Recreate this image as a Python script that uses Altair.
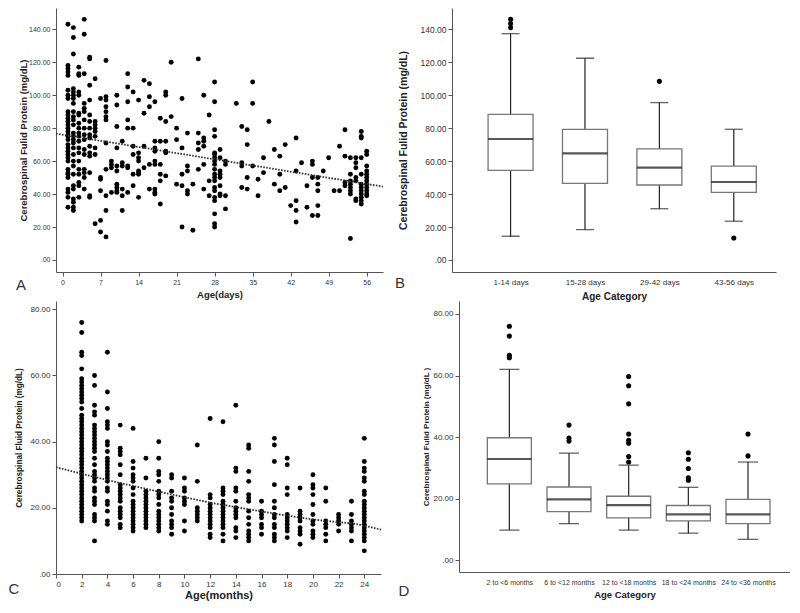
import altair as alt
import pandas as pd

FONT = "Liberation Sans"

# ---------------- Panel A : protein vs age in days ----------------
a_days = [1, 2, 3, 4, 5, 6, 7, 8, 9, 10, 11, 12, 13, 14, 15, 16, 17, 18, 19, 20,
          21, 22, 23, 24, 25, 26, 27, 28, 29, 30, 32, 33, 34, 35, 36, 37, 38, 39,
          40, 41, 42, 43, 44, 45, 46, 47, 48, 49, 50, 51, 52, 53, 54, 55, 56]
a_values = [
    [143, 118, 116, 114, 112, 103, 100, 98, 90, 88, 86, 84, 82, 80, 78, 76, 75, 73, 70, 68,
     66, 64, 62, 60, 55, 53, 52, 50, 43, 41, 38, 32],
    [141, 135, 125, 104, 102, 100, 98, 95, 90, 87, 85, 82, 77, 75, 73, 71, 68, 64, 60, 57,
     52, 45, 43, 37, 35, 32, 30],
    [117, 113, 112, 102, 100, 89, 88, 83, 80, 77, 75, 72, 68, 65, 60, 55, 52, 47, 45, 38],
    [146, 137, 113, 95, 92, 90, 85, 80, 76, 73, 67, 64, 55, 53, 50, 43],
    [123, 122, 106, 97, 88, 84, 80, 76, 74, 69, 65, 63, 53, 39, 38],
    [110, 84, 82, 80, 78, 75, 68, 64, 22],
    [98, 50, 49, 42, 24, 17],
    [121, 99, 97, 93, 90, 87, 85, 71, 55, 39, 30, 14],
    [60, 58, 56, 41],
    [100, 94, 81, 68, 57, 54, 46, 44, 42, 41],
    [72, 59, 57, 43, 39, 30],
    [113, 105, 96, 85, 80, 57, 56, 41],
    [102, 80, 69, 64, 52, 45],
    [97, 65, 62, 60, 54, 53, 52, 38],
    [109, 89, 69, 56],
    [107, 99, 93, 58, 43],
    [96, 72, 68, 66, 60, 58, 43, 41, 40],
    [86, 72, 58, 52, 48, 34],
    [102, 100, 84, 72, 66, 65, 51],
    [120, 87],
    [80, 73, 46],
    [98, 68, 52, 45, 20],
    [77, 57, 54, 42, 40],
    [46, 18],
    [122, 77, 71, 67, 55],
    [100, 74, 72, 69, 58, 43],
    [88, 48, 39],
    [108, 96, 79, 75, 65, 64, 62, 60, 58, 55, 52, 50, 48, 44, 42, 38, 36, 28, 22, 20],
    [67, 62, 54, 52, 50, 45, 40, 39],
    [60, 58, 39, 31],
    [95],
    [81, 59, 57, 44],
    [79, 70, 50, 43],
    [108, 95, 57],
    [49, 39],
    [62, 53],
    [84],
    [67, 46],
    [63, 52, 42],
    [70, 44],
    [33],
    [74, 54, 36, 30, 23],
    [59],
    [45, 32],
    [60, 58, 50, 27],
    [50, 46, 42, 33, 27],
    [54],
    [62],
    [42],
    [69, 42],
    [79, 63, 47, 45],
    [62, 52, 48, 46, 44, 42, 40, 13],
    [62, 59, 56, 50, 48, 37, 36],
    [78, 75, 74, 62, 52, 46, 44, 42, 40, 38, 36, 34],
    [66, 64, 57, 54, 52, 50, 48, 46, 44, 42, 40, 39],
]
a_trend_x = [-1.2, 59.0]
a_trend_y = [76.7, 44.5]

# ---------------- Panel B : box plot, day categories ----------------
b_cats = ["1-14 days", "15-28 days", "29-42 days", "43-56 days"]
b_q1 = [54.4, 46.5, 45.5, 41.0]
b_med = [73.4, 64.7, 56.0, 47.3]
b_q3 = [88.4, 79.3, 67.4, 57.0]
b_lo = [14.4, 18.4, 31.1, 23.5]
b_hi = [137.3, 122.4, 95.5, 79.3]
b_out_idx = [0, 0, 0, 2, 3]
b_out_val = [141, 143.5, 146, 108.4, 13.3]

# ---------------- Panel C : protein vs age in months ----------------
c_months = [2, 3, 4, 5, 6, 7, 8, 9, 10, 11, 12, 13, 14, 15, 16, 17, 18, 19, 20, 21, 22, 23, 24]
c_values = [
    [76, 73, 67, 66, 62, 59, 58, 57, 56, 55, 54, 53, 52, 50, 48, 47, 46, 45, 44, 43, 42, 41,
     40, 39, 38, 37, 36, 35, 34, 33, 32, 31, 30, 29, 28, 27, 26, 25, 24, 23, 22, 21, 20, 19,
     18, 17, 16],
    [60, 57, 51, 49, 48, 45, 44, 43, 42, 41, 40, 39, 38, 37, 35, 33, 31, 30, 29, 28, 26, 25,
     23, 22, 21, 18, 17, 16, 10],
    [67, 55, 50, 46, 45, 44, 40, 39, 37, 35, 34, 33, 32, 31, 30, 29, 28, 26, 25, 22, 21, 19,
     16, 15],
    [45, 38, 37, 36, 33, 30, 27, 26, 25, 24, 23, 22, 20, 19, 18, 17, 15, 14],
    [44, 34, 32, 30, 29, 28, 26, 24, 22, 21, 20, 19, 18, 17, 16, 15, 14, 13],
    [35, 29, 25, 24, 23, 22, 21, 20, 19, 18, 17, 16, 15, 14],
    [40, 35, 31, 30, 28, 25, 24, 23, 21, 19, 18, 17, 16, 15, 14, 13],
    [30, 29, 25, 23, 22, 20, 18, 16, 15, 14, 12],
    [29, 26, 25, 23, 22, 21, 16, 13],
    [39, 28, 20, 19, 18, 17, 16],
    [47, 24, 23, 21, 20, 19, 18, 17, 16, 15, 14, 12, 11],
    [46, 26, 25, 24, 22, 21, 20, 19, 18, 17, 16, 15, 14, 12, 10],
    [51, 32, 31, 26, 25, 22, 20, 19, 18, 17, 14, 13, 11],
    [39, 38, 31, 28, 24, 23, 22, 19, 17, 15, 13, 12, 11, 10],
    [22, 19, 18, 17, 15, 14, 12],
    [41, 39, 34, 27, 22, 20, 18, 17, 15, 14, 12, 11, 10],
    [35, 33, 26, 24, 18, 17, 16, 15, 14, 13, 11],
    [26, 19, 18, 17, 16, 14, 13, 12, 9],
    [30, 27, 26, 24, 21, 18, 16, 15, 13, 12, 11],
    [26, 22, 16, 15, 14, 12, 10],
    [18, 17, 16, 15, 13],
    [22, 18, 16, 15, 14, 13, 10],
    [41, 34, 32, 31, 29, 28, 25, 24, 22, 21, 20, 19, 18, 17, 16, 15, 14, 13, 12, 11, 10, 7],
]
c_trend_x = [0, 2, 4, 8, 12, 16, 20, 24, 25.3]
c_trend_y = [32.3, 30.3, 28.4, 24.9, 21.6, 18.9, 16.5, 14.6, 13.4]

# ---------------- Panel D : box plot, month categories ----------------
d_cats = ["2 to <6 months", "6 to <12 months", "12 to <18 months", "18 to <24 months", "24 to <36 months"]
d_q1 = [24.8, 15.8, 13.8, 12.8, 11.9]
d_med = [32.9, 19.8, 17.9, 14.9, 14.9]
d_q3 = [39.8, 23.8, 20.8, 17.8, 19.8]
d_lo = [9.8, 11.9, 9.8, 8.8, 6.8]
d_hi = [62.0, 34.8, 30.9, 23.7, 31.9]
d_out_idx = [0, 0, 0, 0, 1, 1, 1, 2, 2, 2, 2, 2, 2, 2, 2, 3, 3, 3, 3, 3, 4, 4]
d_out_val = [76, 72.8, 66.6, 65.8, 43.9, 39.7, 38.7, 59.7, 56.7, 50.8, 41, 39, 38, 33.7, 31.9,
             34.9, 32.8, 29.8, 26.8, 26.0, 41, 33.9]

LBL = "datum.value == 0 ? '.00' : format(datum.value, '.2f')"


def letter(ch, dx, dy):
    return alt.Chart(pd.DataFrame({"t": [ch]})).mark_text(
        font=FONT, fontSize=15, color="#333", align="center", baseline="middle"
    ).encode(x=alt.value(dx), y=alt.value(dy), text="t:N")


def scatter_panel(xs, vals, tx, ty, width, height, xdom, ydom, xvals, yvals, xtitle, ytitle,
                  xtsize, ytsize, lsize, ytpad, xtpad, let, ldx, ldy):
    rows = [{"x": x, "v": v} for x, col in zip(xs, vals) for v in col]
    df = pd.DataFrame(rows)
    tdf = pd.DataFrame({"x": tx, "v": ty})
    X = alt.X("x:Q", scale=alt.Scale(domain=xdom, nice=False, zero=False),
              axis=alt.Axis(values=xvals, format="d", title=xtitle, titleFontSize=xtsize,
                            labelFontSize=lsize, tickSize=4, titlePadding=xtpad))
    Y = alt.Y("v:Q", scale=alt.Scale(domain=ydom, nice=False, zero=False),
              axis=alt.Axis(values=yvals, labelExpr=LBL, title=ytitle, titleFontSize=ytsize,
                            labelFontSize=lsize, tickSize=4, titlePadding=ytpad))
    pts = alt.Chart(df).mark_circle(size=24, color="black", opacity=1).encode(x=X, y=Y)
    line = alt.Chart(tdf).mark_line(color="#333", strokeDash=[1.6, 1.4], strokeWidth=1.8,
                                    interpolate="monotone").encode(x=X, y=Y)
    return alt.layer(pts, line, letter(let, ldx, ldy)).properties(width=width, height=height)


def box_panel(cats, q1, med, q3, lo, hi, oi, ov, width, height, xdom, ydom, yvals, ytitle,
              ytsize, lsize, xlsize, ytpad, bw, cw, let, ldx, ldy, xtsize, xtpad):
    df = pd.DataFrame({"i": list(range(len(cats))), "q1": q1, "med": med, "q3": q3,
                       "lo": lo, "hi": hi})
    odf = pd.DataFrame({"i": oi, "v": ov})
    expr = "[" + ",".join("'" + c + "'" for c in cats) + "][datum.value]"
    xs = alt.Scale(domain=xdom, nice=False, zero=False)
    ys = alt.Scale(domain=ydom, nice=False, zero=False)
    xa = alt.Axis(values=list(range(len(cats))), labelExpr=expr, title="Age Category",
                  ticks=False, labelPadding=6, labelFontSize=xlsize, titleFontSize=xtsize,
                  titlePadding=xtpad)
    ya = alt.Axis(values=yvals, labelExpr=LBL, title=ytitle, titleFontSize=ytsize,
                  labelFontSize=lsize, tickSize=4, titlePadding=ytpad)

    def X(f):
        return alt.X(f, scale=xs, axis=xa)

    def Y(f):
        return alt.Y(f, scale=ys, axis=ya)

    base = alt.Chart(df)
    whisk = base.mark_rule(color="#222", strokeWidth=1.2).encode(x=X("i:Q"), y=Y("lo:Q"), y2="hi:Q")
    box = base.mark_bar(size=bw, fill="white", stroke="#777", strokeWidth=1.3).encode(
        x=X("i:Q"), y=Y("q1:Q"), y2="q3:Q")
    medl = base.mark_tick(orient="horizontal", size=bw, thickness=2.2, color="#111").encode(
        x=X("i:Q"), y=Y("med:Q"))
    caplo = base.mark_tick(orient="horizontal", size=cw, thickness=1.3, color="#222").encode(
        x=X("i:Q"), y=Y("lo:Q"))
    caphi = base.mark_tick(orient="horizontal", size=cw, thickness=1.3, color="#222").encode(
        x=X("i:Q"), y=Y("hi:Q"))
    outs = alt.Chart(odf).mark_circle(size=26, color="black", opacity=1).encode(
        x=X("i:Q"), y=Y("v:Q"))
    return alt.layer(whisk, box, medl, caplo, caphi, outs, letter(let, ldx, ldy)).properties(
        width=width, height=height)


A = scatter_panel(a_days, a_values, a_trend_x, a_trend_y, 327, 264, [-1.2, 59.0], [-7.3, 152.9],
                  list(range(0, 57, 7)), list(range(0, 141, 20)), "Age(days)",
                  "Cerebrospinal Fulid Protein (mg/dL)", 9.5, 9.5, 7, 0, 4, "A", -35, 277)
B = box_panel(b_cats, b_q1, b_med, b_q3, b_lo, b_hi, b_out_idx, b_out_val, 324, 264,
              [-0.72, 3.5], [-7.3, 152.9], list(range(0, 141, 20)),
              "Cerebrospinal Fulid Protein (mg/dL)", 10.5, 8.5, 8, 12, 45, 18, "B", -52, 275, 10, 5)
C = scatter_panel(c_months, c_values, c_trend_x, c_trend_y, 325, 273, [0, 25.3], [0, 82.5],
                  list(range(0, 25, 2)), list(range(0, 81, 20)), "Age(months)",
                  "Cerebrospinal Fluid Protein (mg/dL)", 11, 8.2, 8, 6, 1, "C", -42, 288)
D = box_panel(d_cats, d_q1, d_med, d_q3, d_lo, d_hi, d_out_idx, d_out_val, 331, 271,
              [-0.76, 4.62], [-3.8, 84.2], list(range(0, 81, 20)),
              "Cerebrospinal Fulid Protein (mg/dL )", 8, 8, 7, 2, 44, 20, "D", -55, 290, 9.5, 4)

chart = alt.vconcat(
    alt.hconcat(A, B, spacing=7),
    alt.hconcat(C, D, spacing=13),
    spacing=0,
).properties(
    padding={"left": 0, "top": 0, "right": 0, "bottom": 4}, background="white"
).configure_view(stroke=None).configure_axis(
    labelFont=FONT, titleFont=FONT, labelColor="#333", titleColor="#222",
    domainColor="#555", tickColor="#555", grid=False, titleFontWeight="bold", labelPadding=2,
)

chart.save("out.html", embed_options={"renderer": "svg", "actions": False})
